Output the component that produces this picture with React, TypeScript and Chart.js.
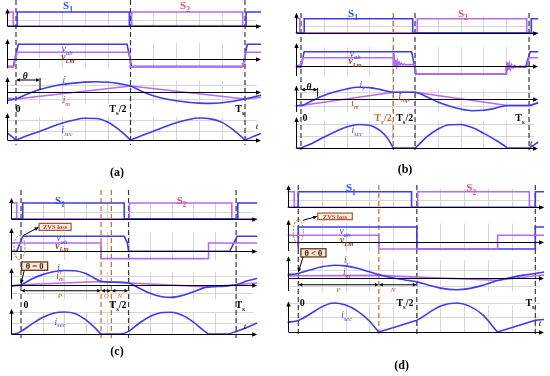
import React, { useEffect, useRef } from 'react';
import { Chart, registerables } from 'chart.js';
Chart.register(...registerables);

type Pt = [number, number];

// ---------------- data (t in units of Ts, values in relative units) ----------------
// Panel (a)
const A_S1: Pt[] = [[-0.038, 0], [0.005, 0], [0.005, 1], [0.495, 1], [0.495, 0], [1.005, 0], [1.005, 1], [1.07, 1]];
const A_S2: Pt[] = [[-0.038, 1], [-0.012, 1], [-0.012, 0], [0.505, 0], [0.505, 1], [0.99, 1], [0.99, 0], [1.07, 0]];
const A_VAB: Pt[] = [[-0.038, -0.49], [-0.012, -0.49], [0.01, 1], [0.485, 1], [0.505, -0.49], [0.99, -0.49], [1.01, 1], [1.07, 1]];
const A_VLM: Pt[] = [[-0.038, -0.49], [-0.01, -0.49], [0.005, 0.47], [0.495, 0.47], [0.5, -0.49], [0.99, -0.49], [1.005, 0.47], [1.07, 0.47]];
const A_IR: Pt[] = [[-0.038, -0.76], [0, -0.63], [0.05, -0.15], [0.1, 0.25], [0.15, 0.52], [0.2, 0.73], [0.25, 0.87], [0.3, 0.96], [0.35, 1.0], [0.4, 0.95], [0.45, 0.82], [0.5, 0.6], [0.55, 0.08], [0.6, -0.32], [0.65, -0.6], [0.7, -0.8], [0.75, -0.94], [0.8, -1.02], [0.85, -1.04], [0.9, -0.98], [0.95, -0.84], [1.0, -0.63], [1.05, -0.38], [1.07, -0.28]];
const A_IM: Pt[] = [[-0.038, -0.54], [0, -0.63], [0.5, 0.6], [1.0, -0.63], [1.07, -0.46]];
const A_ISEC: Pt[] = [[-0.038, 0.32], [-0.01, 0.08], [0, 0], [0.01, 0.04], [0.05, 0.2], [0.1, 0.38], [0.15, 0.58], [0.2, 0.76], [0.25, 0.9], [0.3, 0.99], [0.35, 0.98], [0.4, 0.82], [0.45, 0.47], [0.49, 0.1], [0.5, 0], [0.51, 0.04], [0.55, 0.2], [0.6, 0.4], [0.65, 0.6], [0.7, 0.78], [0.75, 0.92], [0.8, 1.0], [0.85, 0.96], [0.9, 0.8], [0.95, 0.45], [0.99, 0.1], [1.0, 0], [1.01, 0.04], [1.05, 0.22], [1.07, 0.3]];

// Panel (b)
const B_S1: Pt[] = [[-0.023, 0], [0.014, 0], [0.014, 1], [0.49, 1], [0.49, 0], [1.01, 0], [1.01, 1], [1.04, 1]];
const B_S2: Pt[] = [[-0.023, 1], [-0.005, 1], [-0.005, 0], [0.51, 0], [0.51, 1], [0.99, 1], [0.99, 0], [1.04, 0]];
const B_VAB: Pt[] = [[-0.023, -0.07], [0, -0.07], [0.014, 1], [0.485, 1], [0.505, -0.55], [0.9, -0.55], [0.9, -0.07], [0.985, -0.07], [1.005, 1], [1.04, 1]];
const B_VLM: Pt[] = [[-0.023, 0.05], [0, 0.05], [0.008, 0.58], [0.405, 0.58], [0.407, 0.02], [0.41, 0.5], [0.413, 0.03], [0.416, 0.42], [0.419, 0.04], [0.422, 0.34], [0.426, 0.05], [0.43, 0.27], [0.435, 0.06], [0.44, 0.2], [0.446, 0.07], [0.453, 0.14], [0.46, 0.08], [0.47, 0.1], [0.5, 0.08], [0.505, -0.55], [0.9, -0.55], [0.902, 0.3], [0.905, -0.35], [0.908, 0.22], [0.911, -0.28], [0.915, 0.15], [0.919, -0.2], [0.924, 0.08], [0.93, -0.14], [0.937, 0.03], [0.945, -0.08], [0.96, -0.02], [0.99, -0.03], [1.0, 0.58], [1.04, 0.58]];
const B_IR: Pt[] = [[-0.023, -0.55], [0, -0.55], [0.05, -0.12], [0.1, 0.3], [0.15, 0.62], [0.2, 0.86], [0.25, 1.0], [0.3, 0.97], [0.35, 0.8], [0.405, 0.58], [0.5, 0.58], [0.55, 0.2], [0.6, -0.25], [0.65, -0.6], [0.7, -0.86], [0.75, -1.0], [0.8, -0.96], [0.85, -0.8], [0.905, -0.55], [1.0, -0.55], [1.04, -0.3]];
const B_IM: Pt[] = [[-0.023, -0.55], [0, -0.55], [0.405, 0.58], [0.5, 0.58], [0.905, -0.55], [1.0, -0.55], [1.04, -0.35]];
const B_ISEC: Pt[] = [[-0.023, 0], [0, 0], [0.01, 0.04], [0.05, 0.2], [0.1, 0.45], [0.15, 0.68], [0.2, 0.87], [0.25, 0.98], [0.3, 0.95], [0.35, 0.7], [0.38, 0.4], [0.4, 0.08], [0.405, 0], [0.5, 0], [0.51, 0.08], [0.55, 0.45], [0.6, 0.78], [0.65, 0.97], [0.7, 0.98], [0.75, 0.85], [0.8, 0.62], [0.85, 0.35], [0.9, 0.04], [0.905, 0], [1.0, 0], [1.01, 0.05], [1.04, 0.25]];

// Panel (c)
const C_S1: Pt[] = [[-0.047, 0], [0.008, 0], [0.008, 1], [0.48, 1], [0.48, 0], [1.008, 0], [1.008, 1], [1.098, 1]];
const C_S2: Pt[] = [[-0.047, 1], [-0.02, 1], [-0.02, 0], [0.504, 0], [0.504, 1], [0.98, 1], [0.98, 0], [1.098, 0]];
const C_VAB: Pt[] = [[-0.047, 0], [-0.02, 0], [0.008, 1], [0.48, 1], [0.495, 0.55], [0.5, 0], [0.97, 0], [1.005, 1], [1.098, 1]];
const C_VLM: Pt[] = [[-0.047, 0.55], [0.372, 0.55], [0.372, -0.49], [0.872, -0.49], [0.872, 0.55], [1.098, 0.55]];
const C_IR: Pt[] = [[-0.047, -0.1], [0, 0], [0.05, 0.4], [0.1, 0.7], [0.15, 0.9], [0.2, 0.99], [0.25, 0.97], [0.3, 0.78], [0.35, 0.38], [0.372, 0.22], [0.42, 0.18], [0.5, 0.12], [0.55, -0.25], [0.6, -0.6], [0.65, -0.82], [0.7, -0.88], [0.75, -0.75], [0.8, -0.5], [0.85, -0.22], [0.872, -0.15], [0.95, -0.1], [1.0, 0], [1.05, 0.25], [1.098, 0.45]];
const C_IM: Pt[] = [[-0.047, -0.07], [0, 0], [0.372, 0.22], [0.5, 0.12], [0.872, -0.15], [1.0, 0], [1.098, 0.12]];
const C_ISEC: Pt[] = [[-0.047, 0], [-0.02, 0.02], [0, 0.12], [0.05, 0.45], [0.1, 0.75], [0.15, 0.94], [0.2, 1.0], [0.25, 0.93], [0.3, 0.65], [0.35, 0.22], [0.366, 0.05], [0.372, 0], [0.46, 0], [0.5, 0.12], [0.55, 0.5], [0.6, 0.8], [0.65, 0.97], [0.7, 0.99], [0.75, 0.85], [0.8, 0.55], [0.85, 0.15], [0.866, 0.04], [0.872, 0], [0.96, 0], [1.0, 0.12], [1.05, 0.3], [1.098, 0.5]];

// Panel (d)
const D_S1: Pt[] = [[-0.045, 0], [0, 0], [0, 1], [0.478, 1], [0.478, 0], [1.0, 0], [1.0, 1], [1.037, 1]];
const D_S2: Pt[] = [[-0.045, 1], [-0.017, 1], [-0.017, 0], [0.504, 0], [0.504, 1], [0.975, 1], [0.975, 0], [1.037, 0]];
const D_VAB: Pt[] = [[0, -0.47], [0, 1], [0.5, 1], [0.5, -0.47], [1.0, -0.47], [1.0, 1], [1.037, 1]];
const D_VLM: Pt[] = [[-0.045, 0.45], [0.34, 0.45], [0.34, -0.47], [0.841, -0.47], [0.841, 0.45], [1.037, 0.45]];
const D_IR: Pt[] = [[-0.045, 0.25], [0, 0.35], [0.05, 0.62], [0.1, 0.86], [0.155, 0.98], [0.2, 0.93], [0.25, 0.75], [0.3, 0.48], [0.345, 0.23], [0.4, 0.0], [0.45, -0.15], [0.5, -0.3], [0.55, -0.55], [0.6, -0.78], [0.668, -0.9], [0.72, -0.82], [0.78, -0.55], [0.84, -0.2], [0.9, 0.05], [0.95, 0.22], [1.0, 0.35], [1.037, 0.46]];
const D_IM: Pt[] = [[-0.045, 0.15], [0, 0.17], [0.345, 0.2], [0.5, 0.07], [0.841, -0.17], [1.0, 0.17], [1.037, 0.22]];
const D_ISEC: Pt[] = [[-0.045, 0.33], [0, 0.4], [0.05, 0.62], [0.1, 0.87], [0.148, 1.0], [0.2, 0.93], [0.25, 0.72], [0.3, 0.38], [0.334, 0.05], [0.34, 0], [0.35, 0.024], [0.49, 0.376], [0.5, 0.4], [0.55, 0.66], [0.6, 0.9], [0.668, 1.0], [0.72, 0.9], [0.78, 0.58], [0.835, 0.05], [0.841, 0], [0.85, 0.023], [0.99, 0.376], [1.0, 0.4], [1.037, 0.43]];

const GRID_T = [0.1, 0.2, 0.3, 0.4, 0.5, 0.6, 0.7, 0.8, 0.9, 1.0];

// ---------------- styles ----------------
const BLUE = '#3c3ced';
const PURPLE = '#b56af0';
const L_BLUE = '#3050d8';
const L_PINK = '#e0507a';
const L_BROWN = '#9a3a1a';
const L_RED = '#d22a2a';
const ORANGE = '#c46a2c';
const DASH = '#3a3a3a';
const GRID = '#d6d6d6';
const SERIF = '"Liberation Serif", "DejaVu Serif", serif';

type Row = { weight: number; min: number; max: number; tip: number; low: number; grid: number[] };
type Series = { row: number; data: Pt[]; color: string; smooth?: boolean };
type Lbl = { text: string; t: number; row: number; v: number; color: string; style: string; size: number };
type Ann =
  | { k: 'dim'; row: number; v: number; t1: number; t2: number }
  | { k: 'tick'; row: number; t: number; v1: number; v2: number }
  | { k: 'box'; row: number; t1: number; t2: number; v1: number; v2: number; text: string; color: string; border: string; fill: string; size: number }
  | { k: 'ellipse'; row: number; t: number; v: number; rx: number; ry: number }
  | { k: 'arrow'; row: number; t1: number; v1: number; t2: number; v2: number };
type Panel = {
  left: number; top: number; width: number; height: number; padBottom: number;
  xmin: number; xmax: number; axisT: number; endT: number; dashTop: number; dashBottom: number;
  rows: Row[]; series: Series[]; dashed: { t: number; color: string }[]; labels: Lbl[]; anns: Ann[];
  caption: { text: string; x: number; y: number };
};

const lb = (text: string, t: number, row: number, v: number, color: string, style: string, size: number): Lbl => ({ text, t, row, v, color, style, size });

const PANELS: Panel[] = [
  {
    left: 0, top: 0, width: 272, height: 185, padBottom: 39,
    xmin: -0.0699, xmax: 1.118, axisT: -0.038, endT: 1.07, dashTop: 1.86, dashBottom: -0.23,
    rows: [
      { weight: 34, min: -0.571, max: 1.857, tip: 1.25, low: 0, grid: [0.4] },
      { weight: 38, min: -0.847, max: 1.687, tip: 1.35, low: -0.6, grid: [] },
      { weight: 36, min: -1.48, max: 1.915, tip: 1.44, low: -1.1, grid: [0.65, -0.65] },
      { weight: 38, min: -0.273, max: 1.4545, tip: 1.23, low: 0, grid: [0.4, 0.9] },
    ],
    series: [
      { row: 0, data: A_S2, color: PURPLE }, { row: 0, data: A_S1, color: BLUE },
      { row: 1, data: A_VAB, color: BLUE }, { row: 1, data: A_VLM, color: PURPLE },
      { row: 2, data: A_IM, color: PURPLE }, { row: 2, data: A_IR, color: BLUE, smooth: true },
      { row: 3, data: A_ISEC, color: BLUE, smooth: true },
    ],
    dashed: [{ t: 0, color: DASH }, { t: 0.5, color: DASH }, { t: 1, color: DASH }],
    labels: [
      lb('S_{1}', 0.227, 0, 1.5, L_BLUE, 'bold', 11), lb('S_{2}', 0.738, 0, 1.5, L_PINK, 'bold', 11),
      lb('v_{ab}', 0.223, 1, 0.69, L_BLUE, 'italic', 9.5), lb('v_{Lm}', 0.227, 1, 0.15, L_BROWN, 'bold italic', 9.5),
      lb('i_{r}', 0.214, 2, 1.2, L_BLUE, 'italic', 9.5), lb('i_{m}', 0.22, 2, -0.68, L_RED, 'italic', 9.5),
      lb('θ', 0.04, 2, 1.55, '#000', 'bold italic', 9.5),
      lb('0', 0.009, 3, 1.41, '#000', 'bold', 10), lb('T_{s}/2', 0.445, 3, 1.41, '#000', 'bold', 10), lb('T_{s}', 0.978, 3, 1.41, '#000', 'bold', 10),
      lb('i_{sec}', 0.223, 3, 0.45, L_BLUE, 'italic', 9.5), lb('t', 1.052, 3, 0.64, '#000', 'italic', 9),
    ],
    anns: [
      { k: 'dim', row: 2, v: 1.16, t1: 0, t2: 0.105 },
      { k: 'tick', row: 2, t: 0.105, v1: 1.35, v2: 0.25 },
    ],
    caption: { text: '(a)', x: 117, y: 172 },
  },
  {
    left: 276, top: 0, width: 274, height: 178, padBottom: 26,
    xmin: -0.1096, xmax: 1.092, axisT: -0.023, endT: 1.04, dashTop: 1.4, dashBottom: -0.08,
    rows: [
      { weight: 38, min: -0.379, max: 2.336, tip: 1.43, low: 0, grid: [0.45] },
      { weight: 42, min: -0.979, max: 1.958, tip: 1.6, low: -0.7, grid: [] },
      { weight: 36, min: -1.453, max: 1.624, tip: 1.15, low: -1.1, grid: [0.6, -0.6] },
      { weight: 36, min: -0.167, max: 1.333, tip: 1.29, low: 0, grid: [0.5, 1.0] },
    ],
    series: [
      { row: 0, data: B_S2, color: PURPLE }, { row: 0, data: B_S1, color: BLUE },
      { row: 1, data: B_VAB, color: BLUE }, { row: 1, data: B_VLM, color: PURPLE },
      { row: 2, data: B_IM, color: PURPLE }, { row: 2, data: B_IR, color: BLUE, smooth: true },
      { row: 3, data: B_ISEC, color: BLUE, smooth: true },
    ],
    dashed: [{ t: 0, color: DASH }, { t: 0.405, color: ORANGE }, { t: 0.5, color: DASH }, { t: 1, color: DASH }],
    labels: [
      lb('S_{1}', 0.228, 0, 1.41, L_BLUE, 'bold', 11), lb('S_{2}', 0.71, 0, 1.41, L_PINK, 'bold', 11),
      lb('v_{ab}', 0.237, 1, 0.89, L_BLUE, 'italic', 9.5), lb('v_{Lm}', 0.237, 1, 0.38, L_BROWN, 'bold italic', 9.5),
      lb('i_{r}', 0.268, 2, 1.2, L_BLUE, 'italic', 9.5), lb('I_{mp}', 0.45, 2, 0.22, L_RED, 'italic', 9.5),
      lb('i_{m}', 0.237, 2, -0.34, L_BROWN, 'italic', 9.5), lb('θ', 0.035, 2, 1.08, '#000', 'bold italic', 9.5),
      lb('0', 0.018, 3, 1.25, '#000', 'bold', 10), lb('T_{r}/2', 0.36, 3, 1.25, ORANGE, 'bold', 10),
      lb('T_{s}/2', 0.455, 3, 1.25, '#000', 'bold', 10), lb('T_{s}', 0.96, 3, 1.25, '#000', 'bold', 10),
      lb('i_{sec}', 0.246, 3, 0.75, L_BLUE, 'italic', 9.5), lb('t', 1.01, 3, 0.21, '#000', 'italic', 9),
    ],
    anns: [
      { k: 'dim', row: 2, v: 0.8, t1: 0, t2: 0.073 },
      { k: 'tick', row: 2, t: 0.073, v1: 0.95, v2: 0.2 },
    ],
    caption: { text: '(b)', x: 129, y: 169 },
  },
  {
    left: 0, top: 188, width: 272, height: 188, padBottom: 38,
    xmin: -0.0977, xmax: 1.167, axisT: -0.0465, endT: 1.098, dashTop: 1.83, dashBottom: -0.18,
    rows: [
      { weight: 36, min: -0.338, max: 1.955, tip: 1.32, low: 0, grid: [0.45] },
      { weight: 40, min: -0.847, max: 1.82, tip: 1.55, low: -0.6, grid: [] },
      { weight: 38, min: -1.2, max: 1.4375, tip: 1.16, low: -1.0, grid: [0.6, -0.6] },
      { weight: 36, min: -0.18, max: 1.4545, tip: 1.15, low: 0, grid: [0.5, 1.0] },
    ],
    series: [
      { row: 0, data: C_S2, color: PURPLE }, { row: 0, data: C_S1, color: BLUE },
      { row: 1, data: C_VAB, color: BLUE }, { row: 1, data: C_VLM, color: PURPLE },
      { row: 2, data: C_IM, color: PURPLE }, { row: 2, data: C_IR, color: BLUE, smooth: true },
      { row: 3, data: C_ISEC, color: BLUE, smooth: true },
    ],
    dashed: [{ t: 0, color: DASH }, { t: 0.372, color: ORANGE }, { t: 0.42, color: ORANGE }, { t: 0.5, color: DASH }, { t: 1, color: DASH }],
    labels: [
      lb('S_{1}', 0.181, 0, 1.19, L_BLUE, 'bold', 11), lb('S_{2}', 0.747, 0, 1.19, L_PINK, 'bold', 11),
      lb('v_{ab}', 0.19, 1, 0.89, L_BLUE, 'italic', 9.5), lb('v_{Lm}', 0.19, 1, 0.4, L_BROWN, 'bold italic', 9.5),
      lb('i_{r}', 0.181, 2, 1.16, L_BLUE, 'italic', 9.5), lb('i_{m}', 0.181, 2, 0.65, L_BROWN, 'italic', 9.5),
      lb('P', 0.181, 2, -0.74, ORANGE, 'italic', 7), lb('O', 0.396, 2, -0.78, ORANGE, 'italic', 7), lb('N', 0.46, 2, -0.78, ORANGE, 'italic', 7),
      lb('0', 0.023, 3, 1.33, '#000', 'bold', 10), lb('T_{s}/2', 0.451, 3, 1.33, '#000', 'bold', 10), lb('T_{s}', 1.019, 3, 1.33, '#000', 'bold', 10),
      lb('i_{sec}', 0.181, 3, 0.58, L_BLUE, 'italic', 9.5), lb('t', 1.042, 3, 0.38, '#000', 'italic', 9),
    ],
    anns: [
      { k: 'dim', row: 2, v: -0.42, t1: 0, t2: 0.372 },
      { k: 'dim', row: 2, v: -0.42, t1: 0.372, t2: 0.42 },
      { k: 'dim', row: 2, v: -0.42, t1: 0.42, t2: 0.5 },
      { k: 'ellipse', row: 1, t: -0.007, v: 0.25, rx: 5.5, ry: 12 },
      { k: 'arrow', row: 1, t1: 0.01, v1: 1.05, t2: 0.082, v2: 1.6 },
      { k: 'box', row: 1, t1: 0.084, t2: 0.233, v1: 1.86, v2: 1.39, text: 'ZVS loss', color: '#d0301c', border: '#9a5a30', fill: '#fdeee4', size: 6.5 },
      { k: 'arrow', row: 2, t1: 0.015, v1: 1.0, t2: 0.0, v2: 0.06 },
      { k: 'box', row: 2, t1: 0.003, t2: 0.124, v1: 1.58, v2: 1.0, text: 'θ = 0', color: '#3a1a08', border: '#5a2a10', fill: '#f6e6d6', size: 8.5 },
    ],
    caption: { text: '(c)', x: 117, y: 163 },
  },
  {
    left: 276, top: 178, width: 274, height: 198, padBottom: 40,
    xmin: -0.094, xmax: 1.062, axisT: -0.045, endT: 1.037, dashTop: 1.43, dashBottom: -0.1,
    rows: [
      { weight: 34, min: -0.3, max: 1.878, tip: 1.43, low: 0, grid: [0.45] },
      { weight: 40, min: -0.667, max: 2.0, tip: 1.49, low: -0.6, grid: [] },
      { weight: 40, min: -1.077, max: 2.0, tip: 1.67, low: -1.0, grid: [0.6, -0.6] },
      { weight: 44, min: -0.138, max: 1.379, tip: 1.05, low: 0, grid: [0.5, 1.0] },
    ],
    series: [
      { row: 0, data: D_S2, color: PURPLE }, { row: 0, data: D_S1, color: BLUE },
      { row: 1, data: D_VAB, color: BLUE }, { row: 1, data: D_VLM, color: PURPLE },
      { row: 2, data: D_IM, color: PURPLE }, { row: 2, data: D_IR, color: BLUE, smooth: true },
      { row: 3, data: D_ISEC, color: BLUE, smooth: true },
    ],
    dashed: [{ t: 0, color: DASH }, { t: 0.34, color: ORANGE }, { t: 0.5, color: DASH }, { t: 1, color: DASH }],
    labels: [
      lb('S_{1}', 0.222, 0, 1.26, L_BLUE, 'bold', 11), lb('S_{2}', 0.73, 0, 1.26, L_PINK, 'bold', 11),
      lb('v_{ab}', 0.197, 1, 0.75, L_BLUE, 'italic', 9.5), lb('v_{Lm}', 0.204, 1, 0.15, L_BROWN, 'bold italic', 9.5),
      lb('i_{r}', 0.204, 2, 1.41, L_BLUE, 'italic', 9.5), lb('i_{m}', 0.204, 2, 0.46, L_BROWN, 'italic', 9.5),
      lb('P', 0.169, 2, -0.9, ORANGE, 'italic', 7), lb('N', 0.4, 2, -0.9, ORANGE, 'italic', 7),
      lb('0', 0.017, 3, 1.0, '#000', 'bold', 10), lb('T_{s}/2', 0.45, 3, 1.0, '#000', 'bold', 10), lb('T_{s}', 0.978, 3, 1.0, '#000', 'bold', 10),
      lb('i_{sec}', 0.204, 3, 0.6, L_BLUE, 'italic', 9.5), lb('t', 1.02, 3, 0.33, '#000', 'italic', 9),
    ],
    anns: [
      { k: 'dim', row: 2, v: -0.52, t1: 0, t2: 0.34 },
      { k: 'dim', row: 2, v: -0.52, t1: 0.34, t2: 0.5 },
      { k: 'ellipse', row: 1, t: 0, v: 0.71, rx: 5, ry: 12 },
      { k: 'arrow', row: 1, t1: 0.02, v1: 1.45, t2: 0.079, v2: 1.7 },
      { k: 'box', row: 1, t1: 0.082, t2: 0.228, v1: 1.93, v2: 1.49, text: 'ZVS loss', color: '#d0301c', border: '#9a5a30', fill: '#fdeee4', size: 6.5 },
      { k: 'arrow', row: 2, t1: 0.02, v1: 1.62, t2: 0.0, v2: 0.45 },
      { k: 'box', row: 2, t1: 0.011, t2: 0.117, v1: 2.25, v2: 1.62, text: 'θ < 0', color: '#3a1a08', border: '#5a2a10', fill: '#f6e6d6', size: 8.5 },
    ],
    caption: { text: '(d)', x: 125.7, y: 186.5 },
  },
];

// ---------------- drawing helpers ----------------
function parseRich(s: string) {
  const out: { t: string; sub: boolean; w: number }[] = [];
  const re = /_\{([^}]*)\}/g;
  let last = 0;
  let m: RegExpExecArray | null;
  while ((m = re.exec(s))) {
    if (m.index > last) out.push({ t: s.slice(last, m.index), sub: false, w: 0 });
    out.push({ t: m[1], sub: true, w: 0 });
    last = re.lastIndex;
  }
  if (last < s.length) out.push({ t: s.slice(last), sub: false, w: 0 });
  return out;
}

function drawRich(ctx: CanvasRenderingContext2D, s: string, x: number, y: number, size: number, color: string, style: string) {
  const segs = parseRich(s);
  const fontOf = (sub: boolean) => `${style} ${sub ? Math.round(size * 0.68 * 10) / 10 : size}px ${SERIF}`;
  let w = 0;
  segs.forEach((sg) => { ctx.font = fontOf(sg.sub); sg.w = ctx.measureText(sg.t).width; w += sg.w; });
  let cx = x - w / 2;
  ctx.fillStyle = color;
  ctx.textBaseline = 'alphabetic';
  ctx.textAlign = 'left';
  segs.forEach((sg) => {
    ctx.font = fontOf(sg.sub);
    ctx.fillText(sg.t, cx, y + size * 0.35 + (sg.sub ? size * 0.28 : 0));
    cx += sg.w;
  });
}

function seg(ctx: CanvasRenderingContext2D, x1: number, y1: number, x2: number, y2: number) {
  ctx.beginPath(); ctx.moveTo(x1, y1); ctx.lineTo(x2, y2); ctx.stroke();
}

function head(ctx: CanvasRenderingContext2D, x1: number, y1: number, x2: number, y2: number, len = 5, half = 2.2) {
  const a = Math.atan2(y2 - y1, x2 - x1);
  const c = Math.cos(a), s = Math.sin(a);
  ctx.beginPath();
  ctx.moveTo(x2, y2);
  ctx.lineTo(x2 - len * c + half * s, y2 - len * s - half * c);
  ctx.lineTo(x2 - len * c - half * s, y2 - len * s + half * c);
  ctx.closePath();
  ctx.fill();
}

function makeDeco(p: Panel) {
  return {
    id: 'deco',
    beforeDatasetsDraw(chart: any) {
      const ctx: CanvasRenderingContext2D = chart.ctx;
      const X = (t: number) => chart.scales.x.getPixelForValue(t);
      const Y = (r: number, v: number) => chart.scales['r' + r].getPixelForValue(v);
      ctx.save();
      ctx.lineWidth = 1;
      ctx.strokeStyle = GRID;
      p.rows.forEach((r, i) => {
        const yT = Y(i, r.tip) + 4, yL = Y(i, r.low);
        GRID_T.forEach((t) => { const x = Math.round(X(t)) + 0.5; seg(ctx, x, yT, x, yL); });
        r.grid.forEach((v) => { const y = Math.round(Y(i, v)) + 0.5; seg(ctx, X(p.axisT), y, X(p.endT) - 4, y); });
      });
      const yTop = Y(0, p.dashTop), yBot = Y(p.rows.length - 1, p.dashBottom);
      ctx.setLineDash([5, 3]);
      ctx.lineWidth = 1.2;
      p.dashed.forEach((d) => { ctx.strokeStyle = d.color; const x = X(d.t); seg(ctx, x, yTop, x, yBot); });
      ctx.restore();
    },
    afterDatasetsDraw(chart: any) {
      const ctx: CanvasRenderingContext2D = chart.ctx;
      const X = (t: number) => chart.scales.x.getPixelForValue(t);
      const Y = (r: number, v: number) => chart.scales['r' + r].getPixelForValue(v);
      ctx.save();
      ctx.setLineDash([]);
      ctx.strokeStyle = '#000';
      ctx.fillStyle = '#000';
      ctx.lineWidth = 1;
      p.rows.forEach((r, i) => {
        const xa = Math.round(X(p.axisT)) + 0.5, xe = X(p.endT);
        const y0 = Math.round(Y(i, 0)) + 0.5, yT = Y(i, r.tip), yL = Y(i, r.low);
        seg(ctx, xa, yL, xa, yT + 3);
        head(ctx, xa, yT + 6, xa, yT, 5, 2.2);
        seg(ctx, xa, y0, xe - 3, y0);
        head(ctx, xe - 6, y0, xe, y0, 5, 2.2);
      });
      p.anns.forEach((a) => {
        ctx.setLineDash([]);
        ctx.strokeStyle = '#000';
        ctx.fillStyle = '#000';
        ctx.lineWidth = 1;
        if (a.k === 'dim') {
          const x1 = X(a.t1), x2 = X(a.t2), y = Y(a.row, a.v);
          seg(ctx, x1 + 2, y, x2 - 2, y);
          head(ctx, x2 - 4, y, x1, y, 4, 1.8);
          head(ctx, x1 + 4, y, x2, y, 4, 1.8);
        } else if (a.k === 'tick') {
          const x = X(a.t);
          seg(ctx, x, Y(a.row, a.v1), x, Y(a.row, a.v2));
        } else if (a.k === 'arrow') {
          const x1 = X(a.t1), y1 = Y(a.row, a.v1), x2 = X(a.t2), y2 = Y(a.row, a.v2);
          seg(ctx, x1, y1, x2, y2);
          head(ctx, x1, y1, x2, y2, 4, 1.8);
        } else if (a.k === 'ellipse') {
          ctx.strokeStyle = '#a86a3a';
          ctx.setLineDash([2, 1.5]);
          ctx.beginPath();
          ctx.ellipse(X(a.t), Y(a.row, a.v), a.rx, a.ry, 0, 0, Math.PI * 2);
          ctx.stroke();
        } else if (a.k === 'box') {
          const x1 = X(a.t1), x2 = X(a.t2), y1 = Y(a.row, a.v1), y2 = Y(a.row, a.v2);
          ctx.fillStyle = a.fill;
          ctx.fillRect(x1, y1, x2 - x1, y2 - y1);
          ctx.strokeStyle = a.border;
          ctx.lineWidth = 1.2;
          ctx.strokeRect(x1, y1, x2 - x1, y2 - y1);
          drawRich(ctx, a.text, (x1 + x2) / 2, (y1 + y2) / 2, a.size, a.color, 'bold');
        }
      });
      p.labels.forEach((l) => drawRich(ctx, l.text, X(l.t), Y(l.row, l.v), l.size, l.color, l.style));
      drawRich(ctx, p.caption.text, p.caption.x, p.caption.y, 12, '#000', 'bold');
      ctx.restore();
    },
  };
}

function PanelChart({ p }: { p: Panel }) {
  const ref = useRef<HTMLCanvasElement>(null);
  useEffect(() => {
    const scales: any = { x: { type: 'linear', min: p.xmin, max: p.xmax, display: false } };
    p.rows.forEach((r, i) => {
      scales['r' + i] = {
        axis: 'y', type: 'linear', position: 'left', stack: 'rows', stackWeight: r.weight,
        weight: p.rows.length - i, min: r.min, max: r.max, display: false,
      };
    });
    const datasets = p.series
      .map((s) => ({
        data: s.data.map(([x, y]) => ({ x, y })),
        xAxisID: 'x', yAxisID: 'r' + s.row,
        borderColor: s.color, backgroundColor: s.color, borderWidth: 1.6,
        pointRadius: 0, fill: false, tension: 0,
        cubicInterpolationMode: s.smooth ? 'monotone' : 'default',
      }))
      .reverse();
    const chart = new Chart(ref.current as HTMLCanvasElement, {
      type: 'line',
      data: { datasets } as any,
      options: {
        responsive: false, maintainAspectRatio: false, animation: false, events: [],
        layout: { padding: { top: 0, left: 0, right: 0, bottom: p.padBottom } },
        plugins: { legend: { display: false }, tooltip: { enabled: false } },
        scales,
      } as any,
      plugins: [makeDeco(p) as any],
    });
    return () => chart.destroy();
  }, [p]);
  return (
    <canvas
      ref={ref}
      width={p.width}
      height={p.height}
      style={{ position: 'absolute', left: p.left, top: p.top, width: p.width, height: p.height }}
    />
  );
}

export default function App() {
  return (
    <div style={{ position: 'fixed', left: 0, top: 0, width: 550, height: 376, background: '#fff', overflow: 'hidden' }}>
      {PANELS.map((p, i) => <PanelChart key={i} p={p} />)}
    </div>
  );
}
